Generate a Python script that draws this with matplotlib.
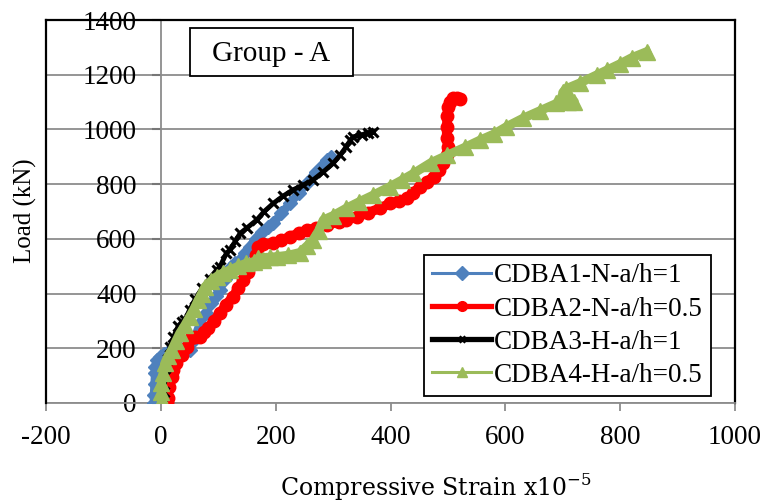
import numpy as np
import matplotlib.pyplot as plt
from matplotlib.patches import Rectangle
from matplotlib.lines import Line2D

# strain (x10^-5), load (kN)
cdba1_strain = [-12, -12, -11, -10, -10, -7, -2, 5, 12, 22, 35, 50, 58, 68, 78, 88, 96, 103, 112,
                123, 130, 138, 146, 155, 165, 176, 186, 196, 210, 225, 240, 254, 270, 282, 289, 297]
cdba1_load = [0, 30, 70, 108, 133, 157, 169, 178, 185, 190, 196, 194, 230, 291, 330, 364, 390, 413, 455,
              498, 512, 523, 548, 571, 600, 626, 642, 657, 693, 730, 766, 803, 845, 870, 888, 900]

cdba2_strain = [10, 12, 15, 19, 22, 27, 36, 45, 53, 60, 68, 75, 82, 92, 103, 114, 126, 135, 143, 152,
                161, 166, 170, 178, 196, 210, 225, 240, 254, 270, 289, 310, 323, 341, 360, 382, 399,
                415, 428, 440, 451, 463, 475, 485, 492, 498, 500, 498, 498, 499, 500, 504, 509, 515, 521]
cdba2_load = [0, 20, 60, 96, 120, 145, 175, 206, 236, 240, 242, 258, 273, 300, 328, 360, 389, 420, 450, 480,
              511, 540, 570, 580, 584, 595, 608, 620, 632, 640, 651, 662, 669, 681, 695, 712, 730,
              738, 748, 768, 791, 808, 827, 850, 876, 905, 937, 970, 1010, 1050, 1083, 1100, 1114, 1115, 1112]

cdba3_strain = [3, 5, 8, 12, 16, 22, 30, 36, 42, 50, 60, 72, 85, 97, 103, 114, 120, 130, 138, 150,
                167, 180, 196, 212, 230, 248, 265, 283, 300, 312, 323, 330, 335, 350, 360, 370]
cdba3_load = [0, 40, 100, 160, 206, 240, 280, 295, 303, 340, 380, 420, 455, 486, 498, 547, 559, 592, 620, 640,
              669, 700, 730, 755, 779, 797, 815, 845, 876, 905, 937, 960, 973, 980, 988, 992]

cdba4_strain = [3, 1, 1, 1, 4, 7, 12, 19, 26, 33, 42, 50, 58, 65, 71, 77, 87, 97, 108, 120, 135, 149,
                163, 178, 170, 190, 202, 222, 242, 255, 265, 275, 283, 300, 323, 345, 370, 399, 420, 440,
                470, 498, 530, 556, 580, 602, 630, 660, 689, 710, 720, 700, 705, 730, 760, 777, 800, 820, 846]
cdba4_load = [0, 5, 40, 72, 110, 145, 170, 194, 225, 255, 285, 315, 345, 376, 400, 425, 445, 462, 475, 486, 500, 511,
              517, 523, 530, 533, 535, 540, 550, 575, 596, 630, 669, 685, 712, 735, 760, 791, 815, 839,
              878, 905, 935, 961, 983, 1010, 1040, 1068, 1095, 1100, 1102, 1135, 1148, 1170, 1200, 1217, 1240, 1262, 1284]

# name, x, y, colour, marker, line width, marker size, marker edge width, legend line width
series = [
    ("CDBA1-N-a/h=1", cdba1_strain, cdba1_load, "#4F81BD", "D", 6, 7, 1.0, 2.2),
    ("CDBA2-N-a/h=0.5", cdba2_strain, cdba2_load, "#FF0000", "o", 7, 9, 1.0, 3.8),
    ("CDBA3-H-a/h=1", cdba3_strain, cdba3_load, "#000000", "x", 3.5, 7, 2.2, 3.8),
    ("CDBA4-H-a/h=0.5", cdba4_strain, cdba4_load, "#9BBB59", "^", 6.5, 11, 1.0, 2.2),
]

plt.rcParams['font.family'] = ['Liberation Serif', 'DejaVu Serif']
plt.rcParams['axes.unicode_minus'] = False
grey = "#8c8c8c"

fig = plt.figure(figsize=(7.67, 5.04), dpi=100)
ax = fig.add_axes([46 / 767, 101 / 504, 689 / 767, 383 / 504])

handles = []
for name, xs, ys, col, mk, lw, ms, mw, llw in series:
    ax.plot(xs, ys, color=col, lw=lw, marker=mk, ms=ms, mew=mw, mec=col, mfc=col, zorder=3)
    handles.append(Line2D([], [], color=col, lw=llw, marker=mk, ms=7 if mk != "x" else 5,
                          mew=mw, mec=col, mfc=col, label=name))

ax.set_xlim(-200, 1000)
ax.set_ylim(0, 1400)
ax.set_xticks(np.arange(-200, 1001, 200))
ax.set_yticks(np.arange(0, 1401, 200))
ax.grid(axis='y', color=grey, lw=1.3)
ax.set_axisbelow(True)

# value axis crosses at zero strain; plot area border drawn in black
ax.spines['left'].set_position(('data', 0))
ax.spines['left'].set_color(grey)
ax.spines['left'].set_linewidth(1.3)
ax.spines['bottom'].set_color(grey)
ax.spines['bottom'].set_linewidth(1.3)
for s in ['right', 'top']:
    ax.spines[s].set_color('black')
    ax.spines[s].set_linewidth(1.6)
ax.axvline(-200, color='black', lw=1.6, clip_on=False, zorder=4)

ax.tick_params(axis='x', direction='out', length=6, width=1.3, color=grey, pad=10, labelsize=19.5)
ax.tick_params(axis='y', direction='out', length=6.5, width=1.5, color='#777777', pad=11, labelsize=19.5)

fig.text(25 / 767, 1 - 211 / 504, "Load (kN)", fontsize=18, rotation=90, ha='center', va='center')
fig.text(436 / 767, 1 - 487 / 504, "Compressive Strain x10$^{\\mathregular{-5}}$",
         fontsize=17, family=['DejaVu Serif'], ha='center', va='center')

# group tag
fig.patches.append(Rectangle((190 / 767, 1 - 76 / 504), 163 / 767, 48 / 504, transform=fig.transFigure,
                             fc='white', ec='black', lw=1.3, zorder=5))
fig.text(271 / 767, 1 - 54 / 504, "Group - A", fontsize=21, ha='center', va='center', zorder=6)

leg = ax.legend(handles=handles, loc='lower right', bbox_to_anchor=(711 / 767, 108 / 504),
                bbox_transform=fig.transFigure, fontsize=19.5, frameon=True, fancybox=False,
                edgecolor='black', handlelength=2.2, handletextpad=0.1, labelspacing=0.3,
                borderpad=0.3, borderaxespad=0, framealpha=1)
leg.get_frame().set_linewidth(1.3)

fig.savefig("out.png", dpi=100)
